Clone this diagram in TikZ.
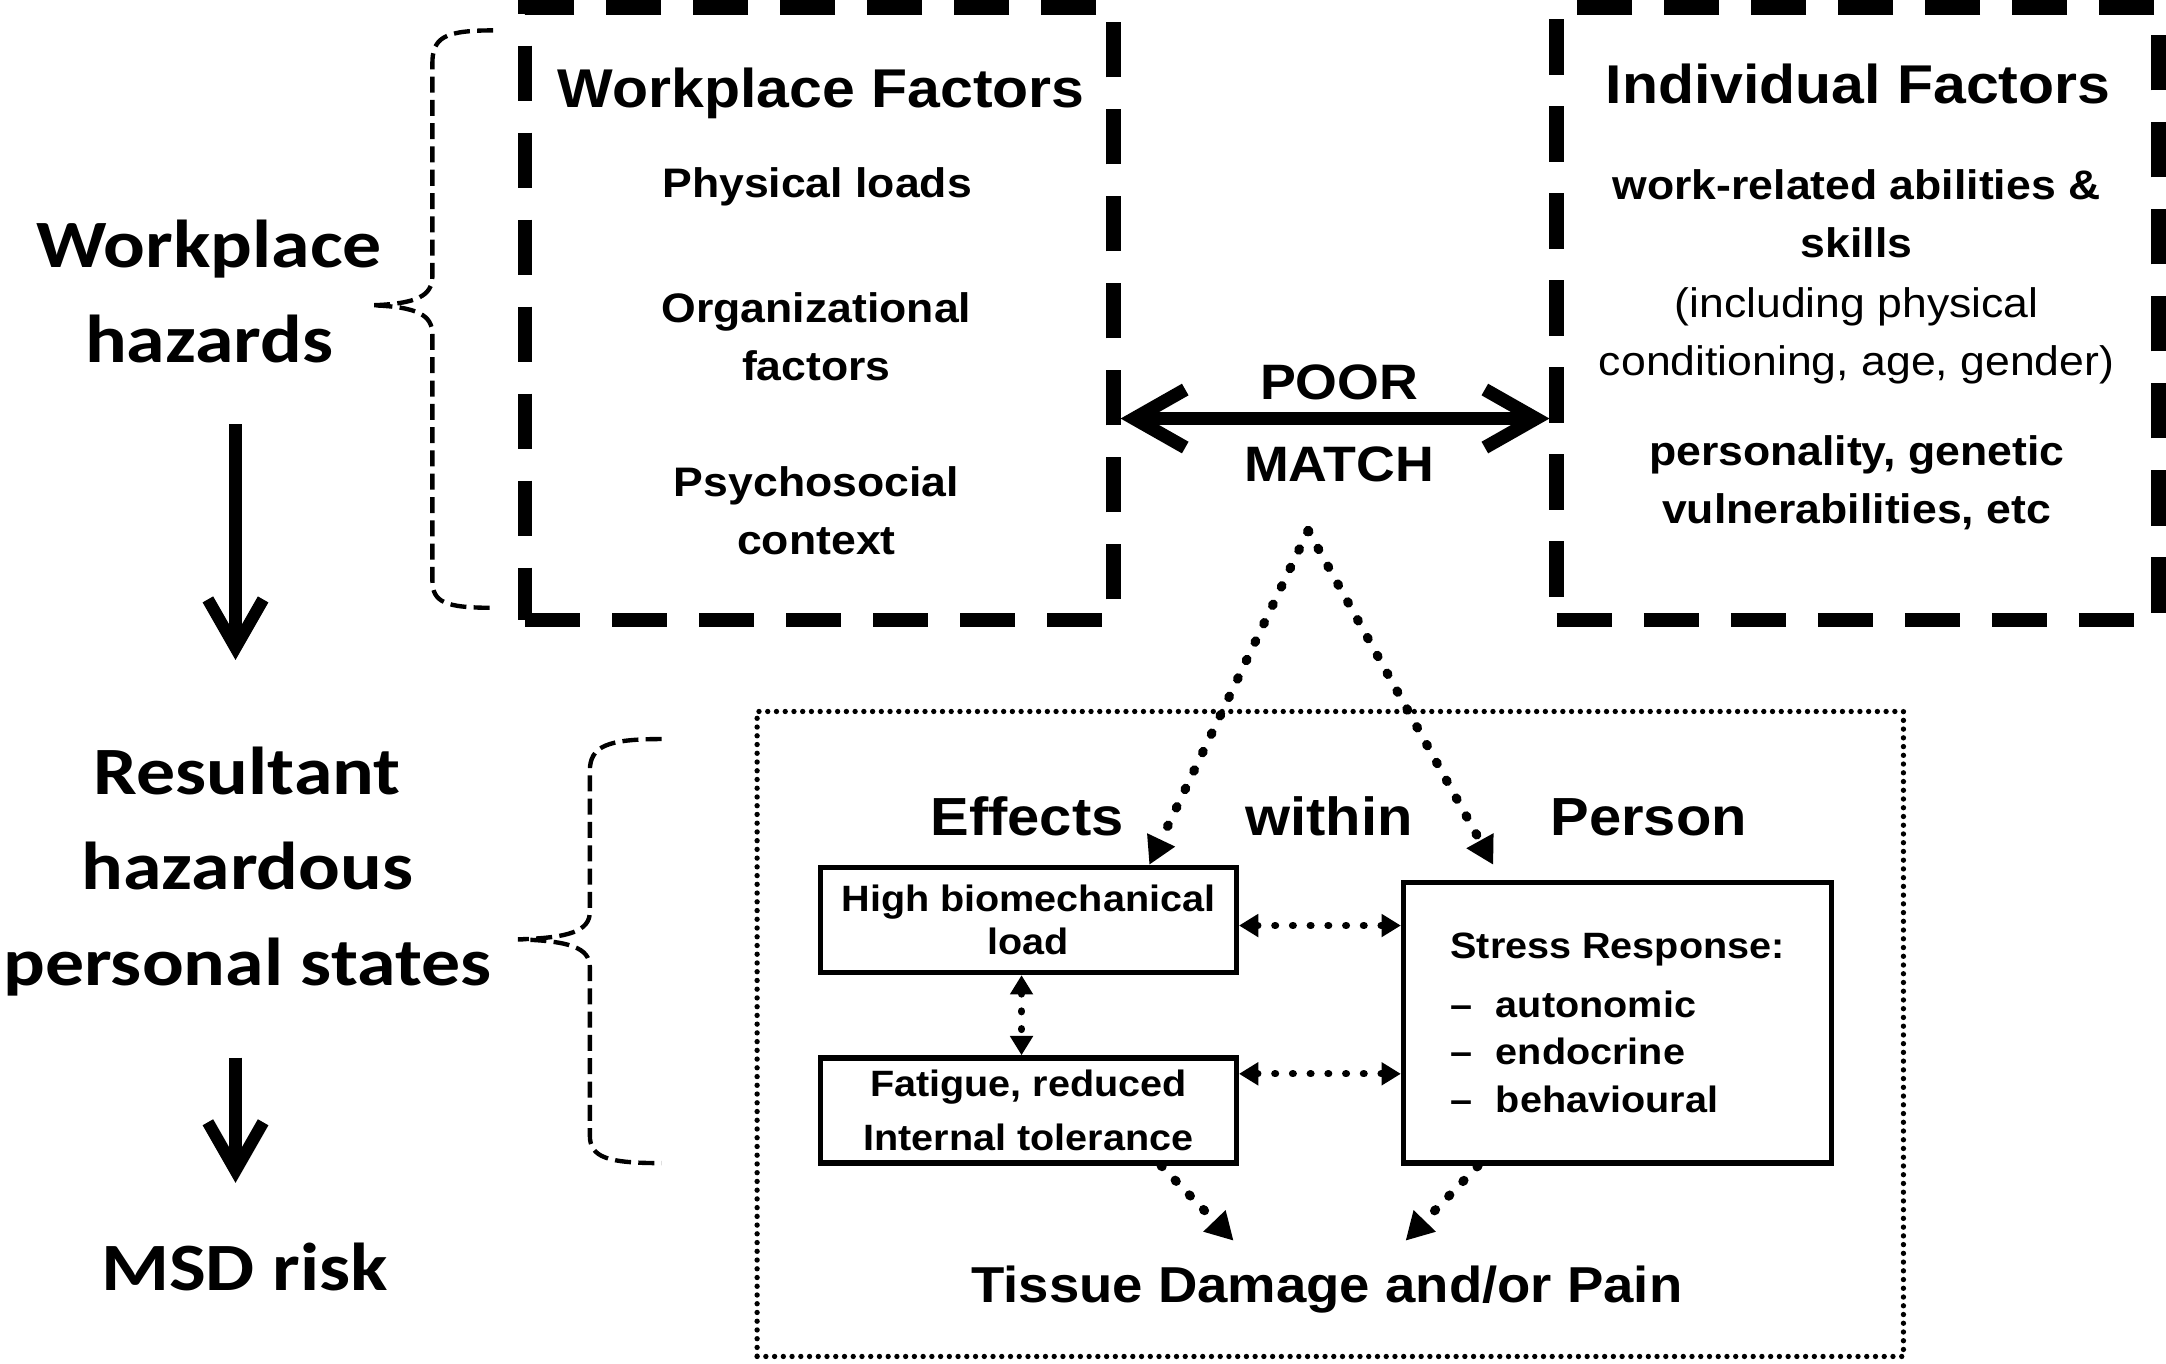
\documentclass[tikz,border=0pt]{standalone}
\usepackage{fontspec}
\setmainfont[FakeStretch=1.08]{Liberation Sans}
\newfontfamily\sidefont[FakeStretch=1.15]{Carlito}
\usetikzlibrary{positioning,arrows.meta}

\begin{document}
\begin{tikzpicture}[x=0.02cm,y=-0.02cm,
  factorbox/.style={draw,line width=6pt,dash pattern=on 0.8cm off 0.46cm,minimum width=#1,minimum height=8.87cm,inner sep=0pt},
  statebox/.style={draw,line width=2.2pt,inner sep=0pt,align=center,minimum width=6.02cm,minimum height=1.52cm,font=\bfseries\fontsize{15.1}{17.4}\selectfont},
  sidetext/.style={font=\sidefont\bfseries\fontsize{27.9}{39.3}\selectfont,align=center,inner sep=0pt},
  boxtitle/.style={font=\bfseries\fontsize{22.5}{27}\selectfont,inner sep=0pt,anchor=base},
  boxitem/.style={font=\bfseries\fontsize{17}{23.9}\selectfont,align=center,inner sep=0pt},
  heading/.style={font=\bfseries\fontsize{22.1}{26}\selectfont,inner sep=0pt,anchor=base},
  flow/.style={line width=5pt,-{Straight Barb[length=0.7cm,width=0.8cm]}},
  matcharrow/.style={line width=5.5pt,{Straight Barb[length=0.74cm,width=0.84cm]}-{Straight Barb[length=0.74cm,width=0.84cm]}},
  dotarrow/.style={line width=3.8pt,line cap=round,dash pattern=on 0.6pt off 7.8pt,-{Triangle[length=0.4cm,width=0.42cm]}},
  dotboth/.style={line width=3pt,line cap=round,dash pattern=on 0.3pt off 7pt,{Triangle[length=0.28cm,width=0.32cm]}-{Triangle[length=0.28cm,width=0.32cm]}},
  bracket/.style={line width=1.8pt,dash pattern=on 6.6pt off 3pt}]
\useasboundingbox (0,0) rectangle (1568,987);

% left column
\node[sidetext] (hazards) at (151.5,211) {Workplace\\hazards};
\node[sidetext] (states) at (179,630.7) {Resultant\\hazardous\\personal states};
\node[sidetext,anchor=base] (msd) at (177,934) {MSD risk};
\draw[flow,shorten <=0.88cm,shorten >=1.25cm] ([xshift=0.38cm]hazards.south) -- ([xshift=0.38cm]hazards.south |- states.north);
\draw[flow,shorten <=0.89cm,shorten >=0.86cm] ([xshift=0.38cm]hazards.south |- states.south) -- ([xshift=0.38cm]hazards.south |- msd.north);

\draw[bracket] (357,22) .. controls (322,22) and (313,27) .. (313,46) -- (313,200) .. controls (313,214) and (302,220) .. (269,221) .. controls (302,222) and (313,228) .. (313,242) -- (313,420) .. controls (313,436) and (322,440) .. (357,440);
\draw[bracket] (479,535) .. controls (440,535) and (427,540) .. (427,558) -- (427,660) .. controls (427,674) and (412,679) .. (375,680) .. controls (412,681) and (427,686) .. (427,700) -- (427,822) .. controls (427,838) and (440,842) .. (479,842);

% factor boxes
\node[factorbox=8.52cm] (work) at (593,227.2) {};
\node[factorbox=8.71cm,right=6.21cm of work] (indiv) {};

\node[boxtitle] (wftitle) at (594.5,78) {Workplace Factors};
\node[boxitem,anchor=base] (physical) at (591.5,143) {Physical loads};
\node[boxitem] (organ) at (591,244) {Organizational\\factors};
\node[boxitem] (psycho) at (591,369.9) {Psychosocial\\context};

\node[boxtitle] (iftitle) at (1345,75) {Individual Factors};
\node[boxitem] (skills) at (1344,154.9) {work-related abilities \&\\skills};
\node[boxitem,font=\fontsize{17}{23.9}\selectfont] (condition) at (1344,242.8) {(including physical\\conditioning, age, gender)};
\node[boxitem] (personality) at (1344,349.2) {personality, genetic\\vulnerabilities, etc};

\draw[matcharrow] ([yshift=-1.516cm]work.east) -- node[font=\bfseries\fontsize{20.5}{33.6}\selectfont,align=center,inner sep=0pt,xshift=0.06cm,yshift=-0.07cm] (poor) {POOR\\MATCH} ([yshift=-1.516cm]indiv.west);
\coordinate (fork) at (947,384);

% effects within person
\node[draw,line width=2.2pt,line cap=round,dash pattern=on 0pt off 3.6pt,minimum width=16.6cm,minimum height=9.34cm,inner sep=0pt] (inside) at (963,748.5) {};
\node[heading] (effects) at (743.5,604.5) {Effects};
\node[heading] (within) at (962,604.5) {within};
\node[heading] (person) at (1193.5,604.5) {Person};

\node[statebox] (high) at (744.5,666) {High biomechanical\\load};
\node[statebox,below=1.16cm of high,font=\bfseries\fontsize{15.1}{22.5}\selectfont] (fatigue) {Fatigue, reduced\\Internal tolerance};
\node[statebox,minimum width=6.2cm,minimum height=4.06cm,align=left,font=\bfseries\fontsize{15.1}{19.6}\selectfont] (stress) at (1171,740.5) {Stress Response:\\[4.5pt]--\hspace{0.34cm}autonomic\\--\hspace{0.34cm}endocrine\\--\hspace{0.34cm}behavioural};
\node[heading,font=\bfseries\fontsize{20.8}{26}\selectfont,inner ysep=0.36cm] (tissue) at (960.5,943) {Tissue Damage and/or Pain};

\draw[dotarrow] (fork) -- ([xshift=1.75cm]high.north);
\draw[dotarrow] (fork) -- ([shift={(-1.8cm,0.22cm)}]stress.north);
\draw[dotboth] ([yshift=-0.08cm]high.east) -- ([yshift=-0.08cm]high.east -| stress.west);
\draw[dotboth] ([yshift=0.53cm]fatigue.east) -- ([yshift=0.53cm]fatigue.east -| stress.west);
\draw[dotboth] ([xshift=-0.1cm]high.south) -- ([xshift=-0.1cm]fatigue.north);
\draw[dotarrow] ([xshift=1.92cm]fatigue.south) -- ([xshift=-1.35cm]tissue.north);
\draw[dotarrow] ([xshift=-2.02cm]stress.south) -- ([xshift=1.14cm]tissue.north);
\end{tikzpicture}
\end{document}
